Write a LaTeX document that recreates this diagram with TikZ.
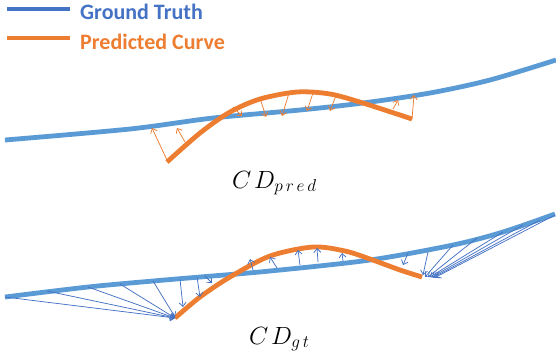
\documentclass[tikz,border=0pt]{standalone}
\usepackage{fontspec}
\setmainfont{Carlito}
\usetikzlibrary{arrows.meta}
\DeclareMathSizes{24}{24}{18}{14}
\definecolor{gtblue}{HTML}{5B9BD5}
\definecolor{legblue}{HTML}{4472C4}
\definecolor{predor}{HTML}{ED7D31}
\tikzset{
  gtline/.style={gtblue, line width=4.8pt},
  prline/.style={predor, line width=4.8pt},
  orarr/.style={predor, line width=0.75pt, -{Straight Barb[length=4pt,width=7pt]}},
  blarr/.style={legblue, line width=0.75pt, -{Straight Barb[length=4pt,width=7pt]}},
  legtext/.style={anchor=base west, font=\fontsize{22}{26}\selectfont\bfseries, inner sep=0pt},
  cdtext/.style={anchor=base west, inner sep=0pt, font=\fontsize{24}{28}\selectfont}
}
\begin{document}
\begin{tikzpicture}[x=1pt,y=-1pt]
\useasboundingbox (0,0) rectangle (556,360);
% legend
\coordinate (l1a) at (7,9); \coordinate (l1b) at (70,9);
\coordinate (l2a) at (7,38); \coordinate (l2b) at (70,38);
\draw[legblue, line width=4pt] (l1a) -- (l1b);
\draw[predor, line width=4pt] (l2a) -- (l2b);
\node[legtext, text=legblue] (lg1) at (80,19) {Ground Truth};
\node[legtext, text=predor] (lg2) at (80,49) {Predicted Curve};
% top
\draw[gtline] plot[smooth] coordinates {(5,140) (130,129) (213,118) (300,110) (363,103) (430,93) (490,80) (556,60)};
\draw[prline] plot[smooth] coordinates {(167,162) (200,133) (230,112) (260,99) (297,92) (330,94) (363,103) (412,119)};
\foreach \ax/\ay/\bx/\by in {167/160/152/128, 185/142/177/128, 233/107/242/116, 260/98/266/117, 289/93/282/116, 313/93/307/111, 337/93/330/111, 393/109/398/100, 412/119/414/95}
  \draw[orarr] (\ax,\ay) -- (\bx,\by);
\node[cdtext] (cdp) at (232,188) {$C\mkern2mu D_{p\mkern3mu r\mkern3mu e\mkern3mu d}$};
% bottom
\draw[gtline] plot[smooth] coordinates {(5,297) (88,287) (153,281) (200,277) (270,271) (370,260) (453,245) (503,232) (555,214)};
\draw[prline] plot[smooth] coordinates {(175,318) (200,297) (230,277) (270,256) (313,247) (345,251) (370,259) (400,270) (422,277)};
\foreach \ax/\ay/\bx/\by in {5/297/175/318, 47/291/175/318, 88/287/175/318, 120/284/175/318, 153/281/175/317, 180/279/183/307, 197/277/200/297, 205/276/212/283, 253/270/250/259, 277/268/270/257, 300/265/298/250, 318/262/317/248, 343/261/342/253, 408/253/403/265, 428/252/423/275, 453/245/425/277, 477/238/428/277, 503/232/430/277, 523/225/432/277, 540/220/434/277, 555/215/436/277}
  \draw[blarr] (\ax,\ay) -- (\bx,\by);
\node[cdtext] (cdg) at (249,344) {$C\mkern2mu D_{g\mkern3mu t}$};
\end{tikzpicture}
\end{document}
